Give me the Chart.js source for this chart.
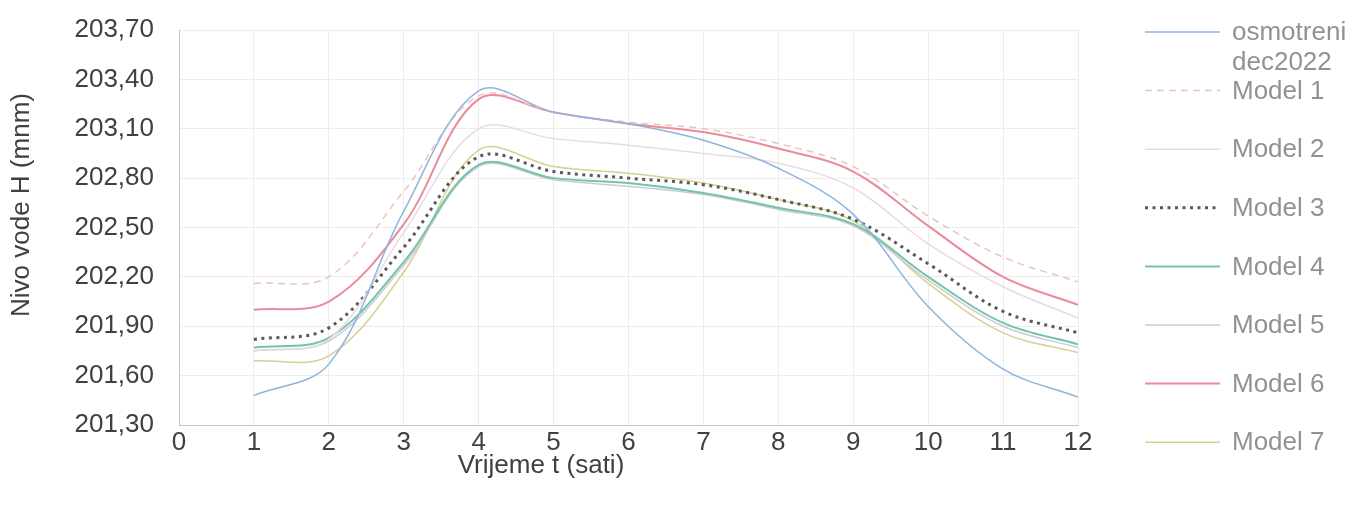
<!DOCTYPE html>
<html>
<head>
<meta charset="utf-8">
<title>Nivo vode</title>
<script src="https://cdn.jsdelivr.net/npm/chart.js@4/dist/chart.umd.min.js"></script>
<style>
    html, body { margin: 0; padding: 0; background: #ffffff; }
    #wrap { width: 1363px; height: 505px; position: relative; }
</style>
</head>
<body>
<div id="wrap"><canvas id="chart"></canvas></div>
<script>
// --- Data ---
const HOURS = [1, 2, 3, 4, 5, 6, 7, 8, 9, 10, 11, 12];
const X_TICKS = [0, 1, 2, 3, 4, 5, 6, 7, 8, 9, 10, 11, 12];
const Y_TICKS = [201.30, 201.60, 201.90, 202.20, 202.50, 202.80, 203.10, 203.40, 203.70];

const X_TITLE = 'Vrijeme t (sati)';
const Y_TITLE = 'Nivo vode H (mnm)';
const SERIES_NAMES = ['osmotreni dec2022', 'Model 1', 'Model 2', 'Model 3', 'Model 4', 'Model 5', 'Model 6', 'Model 7'];

const OSMOTRENI = [201.48, 201.67, 202.60, 203.33, 203.20, 203.13, 203.03, 202.86, 202.58, 202.02, 201.64, 201.47];
const MODEL_1   = [202.16, 202.20, 202.72, 203.30, 203.20, 203.14, 203.10, 203.01, 202.87, 202.57, 202.32, 202.17];
const MODEL_2   = [201.75, 201.82, 202.47, 203.10, 203.04, 203.00, 202.95, 202.89, 202.74, 202.40, 202.14, 201.95];
const MODEL_3   = [201.82, 201.89, 202.38, 202.93, 202.84, 202.80, 202.76, 202.67, 202.55, 202.28, 201.99, 201.86];
const MODEL_4   = [201.77, 201.83, 202.29, 202.88, 202.80, 202.77, 202.71, 202.62, 202.52, 202.20, 201.92, 201.79];
const MODEL_5   = [201.75, 201.81, 202.27, 202.87, 202.79, 202.75, 202.70, 202.61, 202.51, 202.18, 201.90, 201.77];
const MODEL_6   = [202.00, 202.05, 202.52, 203.28, 203.20, 203.13, 203.08, 202.98, 202.84, 202.51, 202.20, 202.03];
const MODEL_7   = [201.69, 201.72, 202.23, 202.97, 202.87, 202.83, 202.77, 202.67, 202.54, 202.16, 201.86, 201.74];

const SERIES_VALUES = [OSMOTRENI, MODEL_1, MODEL_2, MODEL_3, MODEL_4, MODEL_5, MODEL_6, MODEL_7];

// --- Styles ---
const STYLES = [
    { color: '#8db4de', width: 1.5, dash: [] },
    { color: '#edc3c1', width: 1.5, dash: [7, 5] },
    { color: '#e9d9e3', width: 1.5, dash: [] },
    { color: '#5a5a5a', width: 3, dash: [3, 4.5] },
    { color: '#72c5a6', width: 2, dash: [] },
    { color: '#cfc8d8', width: 1.5, dash: [] },
    { color: '#ea8b99', width: 2, dash: [] },
    { color: '#d9d08e', width: 1.5, dash: [] }
];

const FONT = 'Liberation Sans, Arial, sans-serif';
const FONT_SIZE = 26;

const toPoints = (values) => values.map((v, i) => ({ x: HOURS[i], y: v }));
const fmt = (v) => v.toFixed(2).replace('.', ',');

// --- Axis titles (the original has them off-centre) ---
const axisTitles = {
    id: 'axisTitles',
    afterDraw(chart) {
        const ctx = chart.ctx;
        ctx.save();
        ctx.font = `${FONT_SIZE}px ${FONT}`;
        ctx.fillStyle = '#404040';
        ctx.textAlign = 'center';
        ctx.textBaseline = 'middle';
        ctx.fillText(X_TITLE, 541, 466);
        ctx.translate(22, 205);
        ctx.rotate(-Math.PI / 2);
        ctx.fillText(Y_TITLE, 0, 0);
        ctx.restore();
    }
};

// --- Legend drawn beside the plot ---
const sideLegend = {
    id: 'sideLegend',
    afterDraw(chart) {
        const ctx = chart.ctx;
        const lineX0 = 1145, lineX1 = 1220, textX = 1232, top = 32, step = 58.6, lineGap = 30;
        const maxWidth = chart.width - textX;
        ctx.save();
        ctx.font = `${FONT_SIZE}px ${FONT}`;
        ctx.textBaseline = 'middle';
        ctx.textAlign = 'left';
        chart.data.datasets.forEach((ds, i) => {
            const y = top + i * step;
            ctx.beginPath();
            ctx.strokeStyle = ds.borderColor;
            ctx.lineWidth = ds.borderWidth;
            ctx.setLineDash(ds.borderDash || []);
            ctx.moveTo(lineX0, y);
            ctx.lineTo(lineX1, y);
            ctx.stroke();
            ctx.setLineDash([]);

            // wrap the label like the original
            const words = ds.label.split(' ');
            const lines = [];
            let cur = '';
            words.forEach(w => {
                const test = cur ? cur + ' ' + w : w;
                if (cur && ctx.measureText(test).width > maxWidth) {
                    lines.push(cur);
                    cur = w;
                } else {
                    cur = test;
                }
            });
            lines.push(cur);
            ctx.fillStyle = '#929292';
            lines.forEach((t, k) => ctx.fillText(t, textX, y + 1 + k * lineGap));
        });
        ctx.restore();
    }
};

const datasets = SERIES_VALUES.map((values, i) => ({
    label: SERIES_NAMES[i],
    data: toPoints(values),
    borderColor: STYLES[i].color,
    backgroundColor: STYLES[i].color,
    borderWidth: STYLES[i].width,
    borderDash: STYLES[i].dash,
    pointRadius: 0,
    tension: 0.35,
    fill: false
}));

new Chart(document.getElementById('chart'), {
    type: 'line',
    data: { datasets },
    options: {
        responsive: true,
        maintainAspectRatio: false,
        animation: false,
        layout: { padding: { left: 0, right: 285, top: 30, bottom: 0 } },
        plugins: {
            legend: { display: false },
            tooltip: { enabled: false }
        },
        scales: {
            x: {
                type: 'linear',
                min: 0,
                max: 12,
                afterBuildTicks: (scale) => { scale.ticks = X_TICKS.map(v => ({ value: v })); },
                afterFit: (scale) => { scale.height = 80; },
                ticks: {
                    color: '#404040',
                    font: { family: FONT, size: FONT_SIZE },
                    padding: 2,
                    maxRotation: 0,
                    autoSkip: false
                },
                grid: { color: '#ececec', drawTicks: false },
                border: { color: '#c4c4c4' }
            },
            y: {
                min: 201.30,
                max: 203.70,
                afterBuildTicks: (scale) => { scale.ticks = Y_TICKS.map(v => ({ value: v })); },
                afterFit: (scale) => {
                    scale.width = 179;
                    scale.paddingTop = 0;
                    scale.paddingBottom = 0;
                },
                ticks: {
                    color: '#404040',
                    font: { family: FONT, size: FONT_SIZE },
                    padding: 25,
                    callback: (v) => fmt(v)
                },
                grid: { color: '#ececec', drawTicks: false },
                border: { color: '#c4c4c4' }
            }
        }
    },
    plugins: [axisTitles, sideLegend]
});
</script>
</body>
</html>
